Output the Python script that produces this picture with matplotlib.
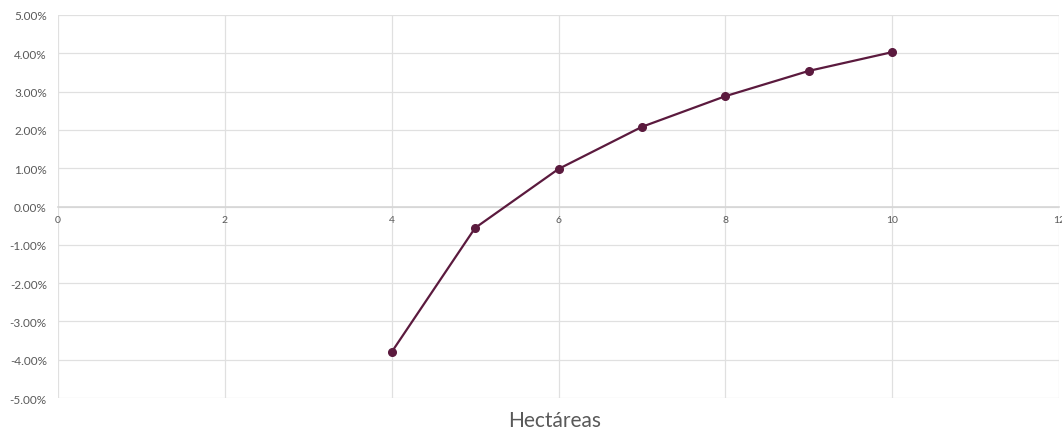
import matplotlib
matplotlib.use("Agg")
import matplotlib.pyplot as plt
from matplotlib.ticker import FuncFormatter, MultipleLocator

hectareas = [4, 5, 6, 7, 8, 9, 10]
rentabilidad = [-3.80, -0.56, 0.98, 2.08, 2.88, 3.54, 4.03]

line_color = "#5b1a3e"
grid_color = "#e0e0e0"
text_color = "#595959"

plt.rcParams["font.family"] = ["Lato", "DejaVu Sans"]

fig = plt.figure(figsize=(10.62, 4.31), dpi=100)
ax = fig.add_axes([0.0546, 0.0742, 0.9426, 0.8887])

ax.plot(hectareas, rentabilidad, color=line_color, linewidth=1.6,
        marker="o", markersize=5.5, zorder=3)

ax.set_xlim(0, 12)
ax.set_ylim(-5, 5)
ax.xaxis.set_major_locator(MultipleLocator(2))
ax.yaxis.set_major_locator(MultipleLocator(1))
ax.yaxis.set_major_formatter(FuncFormatter(lambda v, p: f"{v:.2f}%"))

ax.grid(True, color=grid_color, linewidth=0.9, zorder=0)
for s in ["top", "right", "left"]:
    ax.spines[s].set_visible(False)
ax.spines["bottom"].set_position(("data", 0))
ax.spines["bottom"].set_color("#d6d6d6")
ax.spines["bottom"].set_linewidth(1.2)

ax.tick_params(axis="x", length=0, pad=6, labelsize=7.5, colors=text_color)
ax.tick_params(axis="y", length=0, pad=8, labelsize=8.5, colors=text_color)
for lbl in ax.get_xticklabels():
    lbl.set_clip_on(False)

fig.text(0.5226, 0.0093, "Hectáreas", ha="center", va="baseline",
         fontsize=15, color=text_color)

fig.savefig("out.png", dpi=100)
